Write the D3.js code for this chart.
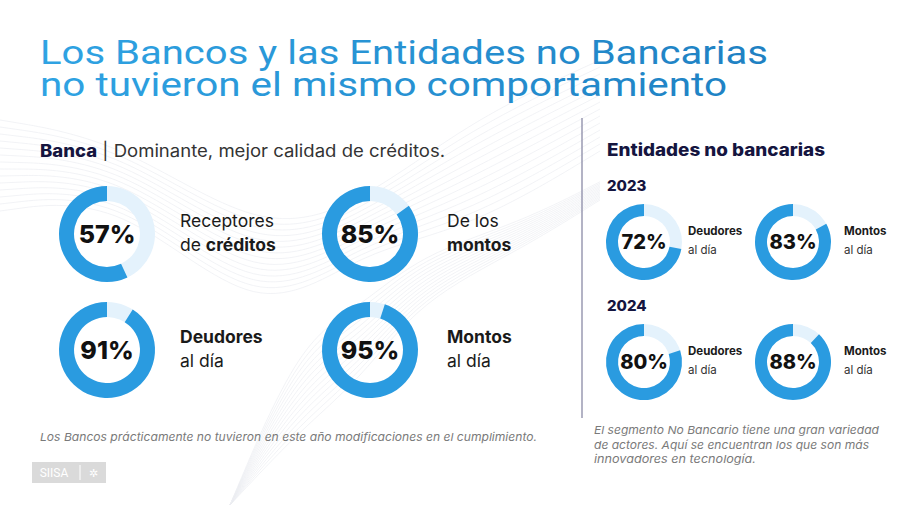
<!DOCTYPE html>
<html><head><meta charset="utf-8">
<script src="https://cdn.jsdelivr.net/npm/d3@7"></script>
<style>
html,body{margin:0;padding:0;background:#fff;}
svg{display:block;}
</style></head>
<body>
<svg id="chart" width="900" height="505"></svg>
<script>
// ---- data ----
const titleLines = ["Los Bancos y las Entidades no Bancarias", "no tuvieron el mismo comportamiento"];
const bancaValues = [57, 85, 91, 95];
const bancaLine1 = [["Receptores", false], ["De los", false], ["Deudores", true], ["Montos", true]];
const bancaLine2 = [[["de ", false], ["créditos", true]], [["montos", true]], [["al día", false]], [["al día", false]]];
const years = ["2023", "2024"];
const noBancValues2023 = [72, 83];
const noBancValues2024 = [80, 88];
const noBancLabels = [["Deudores", "al día"], ["Montos", "al día"]];
const noteLeft = "Los Bancos prácticamente no tuvieron en este año modificaciones en el cumplimiento.";
const noteRight = ["El segmento No Bancario tiene una gran variedad", "de actores. Aquí se encuentran los que son más", "innovadores en tecnología."];

const svg = d3.select("#chart");
const BLUE = "#2a9be0", LIGHT = "#e4f2fc", NAVY = "#15153f";
const LBL = "Inter";

// faint decorative background waves
const bg = svg.append("g").attr("fill", "none").attr("stroke", "#eceef2").attr("stroke-width", 0.7);
const lineGen = d3.line().curve(d3.curveBasis);
for (let i = 0; i < 14; i++) {
  const o = i * 7;
  bg.append("path").attr("d", lineGen([[0, 120 + o], [120, 140 + o * 0.6], [260, 235 + o], [360, 205 + o * 0.5], [470, 120 + o * 1.2], [600, 60 + o]]));
  bg.append("path").attr("d", lineGen([[230, 505], [300, 430 - o], [360, 380 - o * 0.8], [420, 300 - o * 0.5], [520, 250 - o * 0.3], [600, 200 - o * 0.2]]));
}

// title (one text element, two lines)
const grad = svg.append("defs").append("linearGradient").attr("id", "tg").attr("x1", "0").attr("x2", "1");
grad.append("stop").attr("offset", "0").attr("stop-color", "#2fa3e3");
grad.append("stop").attr("offset", "1").attr("stop-color", "#1f80c2");
const title = svg.append("text").attr("font-family", "Roboto").attr("font-size", 34).attr("fill", "url(#tg)");
title.selectAll("tspan").data(titleLines).join("tspan")
  .attr("x", 40).attr("y", (d, i) => 64 + i * 32)
  .attr("textLength", (d, i) => i === 0 ? 728 : 687).attr("lengthAdjust", "spacingAndGlyphs")
  .text(d => d);

// Banca header
const bh = svg.append("text").attr("x", 40).attr("y", 157).attr("font-family", LBL).attr("font-size", 17)
  .attr("textLength", 405).attr("lengthAdjust", "spacingAndGlyphs");
bh.append("tspan").attr("font-weight", 800).attr("fill", NAVY).text("Banca");
bh.append("tspan").attr("fill", "#333").text(" | Dominante, mejor calidad de créditos.");

// donut helper
function donut(g, value, rOut, rIn, fontSize) {
  const arc = d3.arc().innerRadius(rIn).outerRadius(rOut);
  const a = d3.scaleLinear().domain([0, 100]).range([0, -2 * Math.PI]);
  g.append("path").attr("d", arc({startAngle: 0, endAngle: 2 * Math.PI})).attr("fill", LIGHT);
  g.append("path").attr("d", arc({startAngle: a(value), endAngle: 0})).attr("fill", BLUE);
  g.append("text").attr("text-anchor", "middle").attr("dy", "0.36em")
    .attr("font-family", "Inter").attr("font-weight", 800).attr("font-size", fontSize).attr("fill", "#111")
    .text(value + "%");
}

const bCx = d3.scalePoint().domain([0, 1]).range([107, 370]);
const bCy = d3.scalePoint().domain([0, 1]).range([234, 350]);
bancaValues.forEach((v, i) => {
  const col = i % 2, row = Math.floor(i / 2);
  const cx = bCx(col), cy = bCy(row);
  donut(svg.append("g").attr("transform", `translate(${cx},${cy})`), v, 48, 33, 25);
  const lx = col === 0 ? 180 : 447;
  svg.append("text").attr("x", lx).attr("y", cy - 7).attr("font-family", LBL).attr("font-size", 17.5)
    .attr("font-weight", bancaLine1[i][1] ? 700 : 400).attr("fill", "#1a1a1a").text(bancaLine1[i][0]);
  const t2 = svg.append("text").attr("x", lx).attr("y", cy + 17).attr("font-family", LBL).attr("font-size", 17.5).attr("fill", "#1a1a1a");
  bancaLine2[i].forEach(p => t2.append("tspan").attr("font-weight", p[1] ? 700 : 400).text(p[0]));
});

// divider
svg.append("line").attr("x1", 582).attr("x2", 582).attr("y1", 118).attr("y2", 418).attr("stroke", "#8a8aa6").attr("stroke-width", 1.3);

// Entidades no bancarias
svg.append("text").attr("x", 607).attr("y", 156).attr("font-family", LBL).attr("font-weight", 800)
  .attr("font-size", 17).attr("fill", NAVY).attr("textLength", 218).attr("lengthAdjust", "spacingAndGlyphs")
  .text("Entidades no bancarias");

const nCx = d3.scalePoint().domain([0, 1]).range([644, 793]);
const nCy = d3.scalePoint().domain([0, 1]).range([242, 362]);
[noBancValues2023, noBancValues2024].forEach((vals, r) => {
  const cy = nCy(r);
  svg.append("text").attr("x", 607).attr("y", cy - 51).attr("font-family", LBL).attr("font-weight", 800)
    .attr("font-size", 15).attr("fill", NAVY).text(years[r]);
  vals.forEach((v, c) => {
    const cx = nCx(c);
    donut(svg.append("g").attr("transform", `translate(${cx},${cy})`), v, 38, 26, 20);
    const lx = c === 0 ? 688 : 844;
    svg.append("text").attr("x", lx).attr("y", cy - 7).attr("font-family", LBL).attr("font-weight", 700)
      .attr("font-size", 11.5).attr("fill", "#1a1a1a").text(noBancLabels[c][0]);
    svg.append("text").attr("x", lx).attr("y", cy + 12).attr("font-family", LBL)
      .attr("font-size", 11.5).attr("fill", "#333").text(noBancLabels[c][1]);
  });
});

// notes
svg.append("text").attr("x", 40).attr("y", 441).attr("font-family", LBL).attr("font-style", "italic")
  .attr("font-size", 11).attr("fill", "#7a7a7a").attr("textLength", 497).attr("lengthAdjust", "spacingAndGlyphs").text(noteLeft);
const nrLen = [285, 275, 162];
svg.selectAll("text.nr").data(noteRight).join("text").attr("class", "nr")
  .attr("x", 594).attr("y", (d, i) => 434 + i * 14.5).attr("font-family", LBL).attr("font-style", "italic")
  .attr("font-size", 11).attr("fill", "#7a7a7a").attr("textLength", (d, i) => nrLen[i]).attr("lengthAdjust", "spacingAndGlyphs").text(d => d);

// logo
const logo = svg.append("g").attr("transform", "translate(32,462)");
logo.append("rect").attr("width", 74).attr("height", 21).attr("fill", "#dadada");
logo.append("text").attr("x", 22).attr("y", 15).attr("text-anchor", "middle").attr("font-family", "Roboto")
  .attr("font-size", 12).attr("fill", "#fff").text("SIISA");
logo.append("line").attr("x1", 48).attr("x2", 48).attr("y1", 3).attr("y2", 18).attr("stroke", "#fff");
logo.append("text").attr("x", 61).attr("y", 15).attr("text-anchor", "middle").attr("font-size", 11).attr("fill", "#fff").text("✲");
</script>
</body></html>
